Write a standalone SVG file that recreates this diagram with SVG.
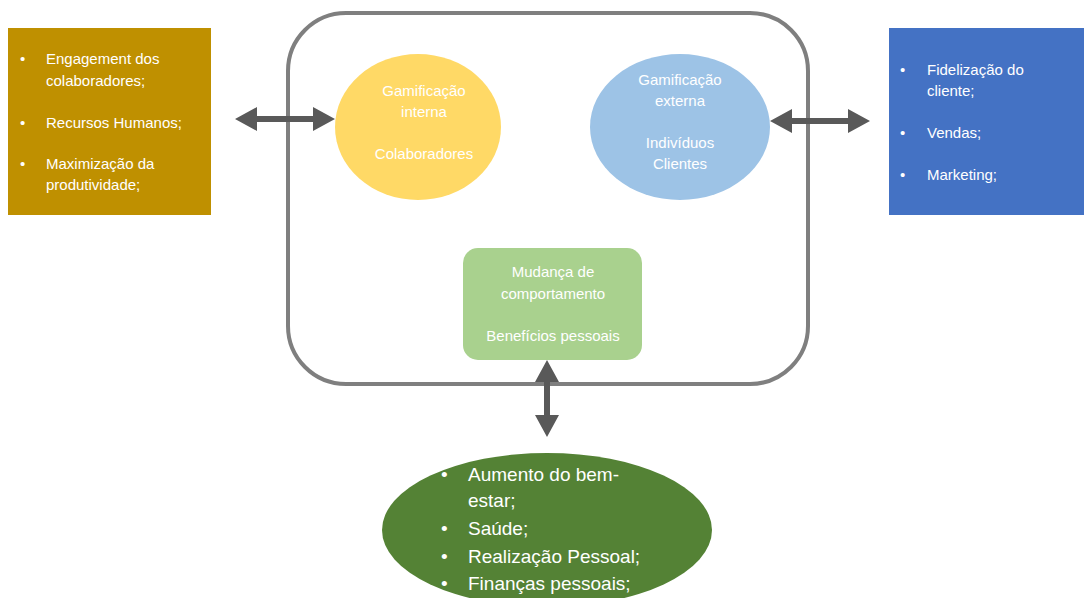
<svg xmlns="http://www.w3.org/2000/svg" width="1084" height="598" viewBox="0 0 1084 598">
  <defs>
    <style>
      .t { font-family: "Liberation Sans", Arial, sans-serif; fill: #ffffff; }
      .s { font-size: 15px; }
      .b { font-size: 19px; }
      .c { text-anchor: middle; }
      .arrow { fill: #595959; }
    </style>
  </defs>
  <rect width="1084" height="598" fill="#ffffff"/>

  <!-- container frame -->
  <g id="frame">
    <rect x="288" y="13" width="520" height="371" rx="58" ry="58" fill="none" stroke="#7f7f7f" stroke-width="4"/>
  </g>

  <!-- connectors (double-headed block arrows) -->
  <g id="connectors" class="arrow">
    <polygon points="235,119 257,107 257,116 313,116 313,107 335,119 313,131 313,122 257,122 257,131"/>
    <polygon points="770,121 792,109 792,118 848,118 848,109 870,121 848,133 848,124 792,124 792,133"/>
    <polygon points="547,360 559,382 550,382 550,415 559,415 547,437 535,415 544,415 544,382 535,382"/>
  </g>

  <g id="rh">
    <rect x="8" y="28" width="203" height="187" fill="#bf9000"/>
    <text class="t s" x="20" y="64">•</text>
    <text class="t s" x="46" y="64">Engagement dos</text>
    <text class="t s" x="46" y="86">colaboradores;</text>
    <text class="t s" x="20" y="128">•</text>
    <text class="t s" x="46" y="128">Recursos Humanos;</text>
    <text class="t s" x="20" y="169">•</text>
    <text class="t s" x="46" y="169">Maximização da</text>
    <text class="t s" x="46" y="190">produtividade;</text>
  </g>

  <g id="marketing">
    <rect x="889" y="28" width="195" height="187" fill="#4472c4"/>
    <text class="t s" x="900" y="75">•</text>
    <text class="t s" x="927" y="75">Fidelização do</text>
    <text class="t s" x="927" y="96">cliente;</text>
    <text class="t s" x="900" y="138">•</text>
    <text class="t s" x="927" y="138">Vendas;</text>
    <text class="t s" x="900" y="180">•</text>
    <text class="t s" x="927" y="180">Marketing;</text>
  </g>

  <g id="interna">
    <ellipse cx="418" cy="127" rx="83" ry="73" fill="#ffd966"/>
    <text class="t s c" x="424" y="96">Gamificação</text>
    <text class="t s c" x="424" y="117">interna</text>
    <text class="t s c" x="424" y="159">Colaboradores</text>
  </g>

  <g id="externa">
    <ellipse cx="680" cy="127" rx="90" ry="73" fill="#9dc3e6"/>
    <text class="t s c" x="680" y="85">Gamificação</text>
    <text class="t s c" x="680" y="106">externa</text>
    <text class="t s c" x="680" y="148">Indivíduos</text>
    <text class="t s c" x="680" y="169">Clientes</text>
  </g>

  <g id="mudanca">
    <rect x="463" y="248" width="179" height="112" rx="15" ry="15" fill="#a9d18e"/>
    <text class="t s c" x="553" y="277">Mudança de</text>
    <text class="t s c" x="553" y="299">comportamento</text>
    <text class="t s c" x="553" y="341">Benefícios pessoais</text>
  </g>

  <g id="beneficios">
    <ellipse cx="547" cy="530" rx="165" ry="77" fill="#548235"/>
    <text class="t b" x="441" y="481">•</text>
    <text class="t b" x="468" y="481">Aumento do bem-</text>
    <text class="t b" x="468" y="507">estar;</text>
    <text class="t b" x="441" y="535">•</text>
    <text class="t b" x="468" y="535">Saúde;</text>
    <text class="t b" x="441" y="563">•</text>
    <text class="t b" x="468" y="563">Realização Pessoal;</text>
    <text class="t b" x="441" y="590">•</text>
    <text class="t b" x="468" y="590">Finanças pessoais;</text>
  </g>
</svg>
